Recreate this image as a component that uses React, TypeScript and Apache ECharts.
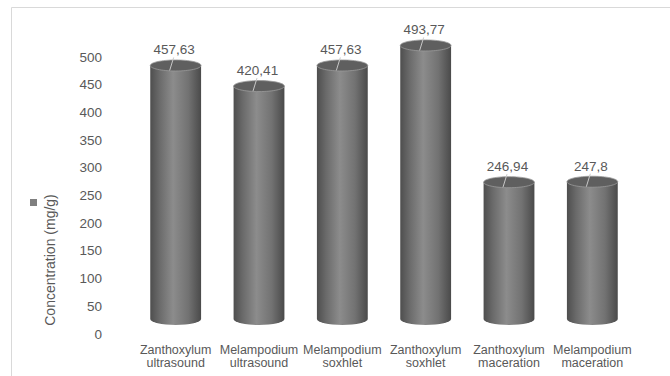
import React, { useEffect, useRef } from "react";
import * as echarts from "echarts";

const categories = [
  "Zanthoxylum ultrasound",
  "Melampodium ultrasound",
  "Melampodium soxhlet",
  "Zanthoxylum soxhlet",
  "Zanthoxylum maceration",
  "Melampodium maceration",
];
const concentrations = [457.63, 420.41, 457.63, 493.77, 246.94, 247.8];
const yTicks = { min: 0, max: 500, interval: 50 };
const axisTitle = "Concentration (mg/g)";

const FONT = "'Liberation Sans', Arial, sans-serif";
const TEXT = "#595959";

// Cylinders are lifted a little above the value axis, like a 3D column chart floor
const LIFT = 15;

function renderCylinder(params: any, api: any) {
  const idx = api.value(0);
  const val = api.value(1);
  const top = api.coord([idx, val]);
  const base = api.coord([idx, 0]);
  const band = api.size([1, 0])[0];
  const rx = (band * 0.61) / 2;
  const ryTop = 5.5;
  const ryBot = 6;
  const cx = top[0];
  const topY = top[1] - LIFT;
  const botY = base[1] - LIFT;

  const body = {
    type: "path",
    shape: {
      pathData:
        `M ${cx - rx} ${topY} L ${cx - rx} ${botY} ` +
        `A ${rx} ${ryBot} 0 0 0 ${cx + rx} ${botY} L ${cx + rx} ${topY} Z`,
    },
    style: {
      fill: new echarts.graphic.LinearGradient(0, 0, 1, 0, [
        { offset: 0, color: "#4e4e4e" },
        { offset: 0.18, color: "#6a6a6a" },
        { offset: 0.45, color: "#8c8c8c" },
        { offset: 0.75, color: "#727272" },
        { offset: 1, color: "#4a4a4a" },
      ]),
      stroke: null,
    },
  };
  const cap = {
    type: "ellipse",
    shape: { cx, cy: topY, rx, ry: ryTop },
    style: { fill: "#5f5f5f", stroke: "#9a9a9a", lineWidth: 0.8 },
  };
  const leader = {
    type: "line",
    shape: { x1: cx - 6, y1: topY + 5, x2: cx - 2, y2: topY - 8 },
    style: { stroke: "#c8c8c8", lineWidth: 1 },
  };
  const label = {
    type: "text",
    style: {
      x: cx - 1.5,
      y: topY - ryTop - 10,
      text: String(val).replace(".", ","),
      fill: TEXT,
      font: `13.5px ${FONT}`,
      align: "center",
      verticalAlign: "middle",
    },
  };
  return { type: "group", children: [body, cap, leader, label] };
}

export default function App() {
  const ref = useRef<HTMLDivElement>(null);

  useEffect(() => {
    if (!ref.current) return;
    const chart = echarts.init(ref.current, undefined, { renderer: "svg" });
    chart.setOption({
      animation: false,
      backgroundColor: "#ffffff",
      textStyle: { fontFamily: FONT },
      grid: { left: 134, right: 36, top: 57, bottom: 42 },
      xAxis: {
        type: "category",
        data: categories,
        axisLine: { show: false },
        axisTick: { show: false },
        axisLabel: {
          color: TEXT,
          fontSize: 12.5,
          lineHeight: 13.5,
          margin: 9,
          interval: 0,
          formatter: (v: string) => v.replace(" ", "\n"),
        },
      },
      yAxis: {
        type: "value",
        min: yTicks.min,
        max: yTicks.max,
        interval: yTicks.interval,
        axisLine: { show: false },
        axisTick: { show: false },
        splitLine: { show: false },
        axisLabel: { color: TEXT, fontSize: 13.5, margin: 32 },
      },
      graphic: [
        {
          type: "rect",
          shape: { x: 11.5, y: 7.5, width: 700, height: 400 },
          style: { fill: "none", stroke: "#d9d9d9", lineWidth: 1 },
          silent: true,
        },
        {
          type: "rect",
          shape: { x: 30, y: 199, width: 7, height: 7 },
          style: { fill: "#7f7f7f" },
          silent: true,
        },
        {
          type: "text",
          x: 50,
          y: 260,
          rotation: Math.PI / 2,
          style: {
            text: axisTitle,
            fill: TEXT,
            font: `14px ${FONT}`,
            align: "center",
            verticalAlign: "middle",
          },
          silent: true,
        },
      ],
      series: [
        {
          type: "custom",
          renderItem: renderCylinder,
          data: concentrations.map((v, i) => [i, v]),
          encode: { x: 0, y: 1 },
        },
      ],
    });
    return () => chart.dispose();
  }, []);

  return (
    <div
      ref={ref}
      style={{ position: "absolute", left: 0, top: 0, width: 670, height: 376 }}
    />
  );
}
